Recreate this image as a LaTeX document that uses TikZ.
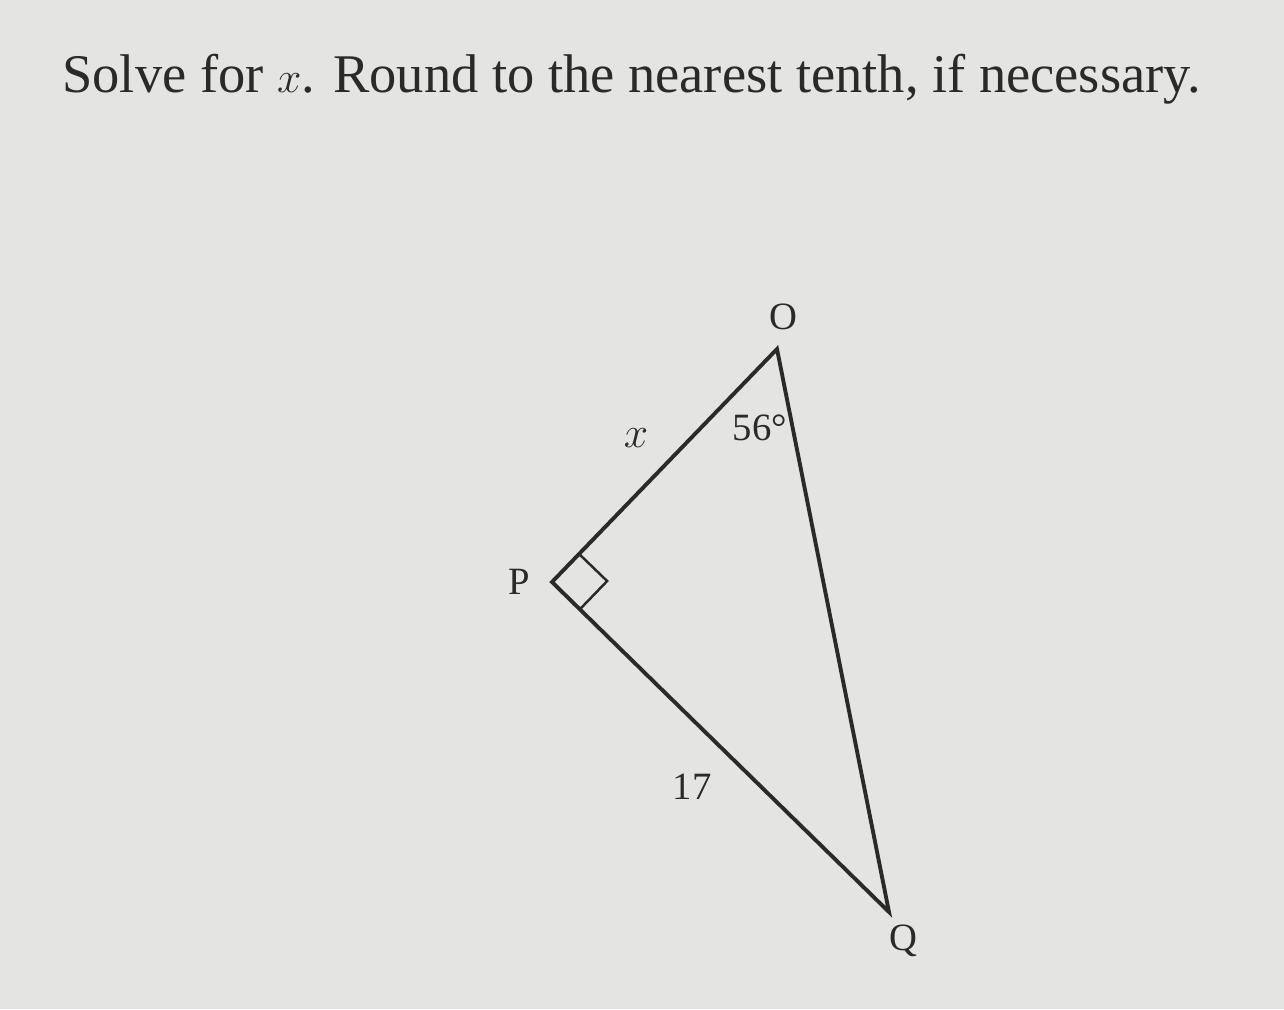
\documentclass[tikz,border=0pt]{standalone}
\usepackage{fontspec}
\setmainfont{Liberation Serif}
\usepackage{xcolor}
\usetikzlibrary{calc}
\definecolor{paper}{HTML}{E4E4E2}
\definecolor{ink}{HTML}{2A2A2A}

\begin{document}
\begin{tikzpicture}[x=0.02cm, y=-0.02cm,
    side/.style={ink, line width=2.2pt, line join=miter},
    lbl/.style={ink, font=\fontsize{22}{24}\selectfont}]
    \fill[paper] (0,0) rectangle (1284,1009);
    \useasboundingbox (0,0) rectangle (1284,1009);
    % question
    \node[anchor=base west, inner sep=0pt, ink, font=\fontsize{31}{36}\selectfont] (title) at (62,92) {Solve for $x$. Round to the nearest tenth, if necessary.};
    % triangle
    \coordinate (O) at (777,349);
    \coordinate (P) at (552,582);
    \coordinate (Q) at (889,912);
    \draw[side] (O) -- (P) -- (Q) -- cycle;
    \draw[ink, line width=1.4pt] ($(P)!0.78cm!(O)$) -- ($($(P)!0.78cm!(O)$)!0.78cm!90:(P)$) -- ($(P)!0.78cm!(Q)$);
    % labels
    \node[lbl] (labO) at (783,317) {O};
    \node[lbl] (labP) at (519,582) {P};
    \node[lbl] (labQ) at (903,941) {Q};
    \node[lbl, font=\fontsize{26}{28}\selectfont] (labx) at (636,438) {$x$};
    \node[lbl] (ang) at (760,428) {56°};
    \node[lbl] (side) at (692,787) {17};
\end{tikzpicture}
\end{document}
